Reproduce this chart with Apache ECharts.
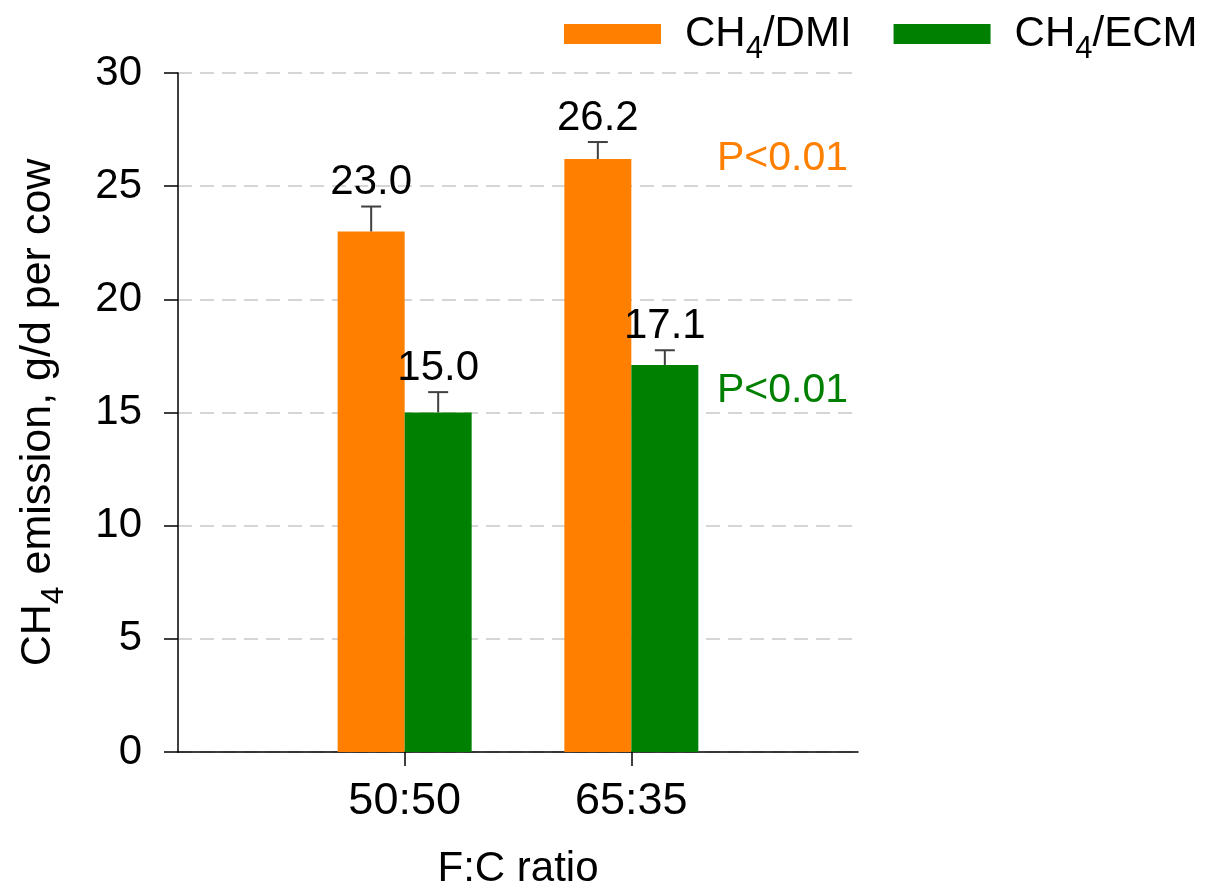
<!DOCTYPE html>
<html>
<head>
<meta charset="utf-8">
<title>CH4 emission by F:C ratio</title>
<script src="https://cdn.jsdelivr.net/npm/echarts@6/dist/echarts.min.js"></script>
<style>
  html, body { margin: 0; padding: 0; background: #ffffff; }
  #chart { width: 1205px; height: 889px; }
</style>
</head>
<body>
<div id="chart"></div>
<script>
// Forage-to-concentrate ratios on the x axis
const categories = ['50:50', '65:35'];

// Methane yield per unit of dry matter intake and per unit of energy-corrected milk
const dmiValues = [23.0, 26.2];
const dmiErrors = [1.1, 0.75];
const ecmValues = [15.0, 17.1];
const ecmErrors = [0.9, 0.65];

// Significance notes shown beside each series
const dmiNote = 'P<0.01';
const ecmNote = 'P<0.01';

const yTicks = { min: 0, max: 30, step: 5 };

const ORANGE = '#ff8000';
const GREEN = '#008000';
const FONT = '"Liberation Sans", Arial, sans-serif';
const BAR_W = 67;

// Empty slots on both ends so the two groups sit at 1/3 and 2/3 of the width
const axisCats = [''].concat(categories, ['']);
const pad = arr => ['-'].concat(arr, ['-']);

// Rich-text styles for "CH4" with a subscript 4
function subStyles(size) {
  const subSize = Math.round(size * 0.74);
  return {
    a: { fontSize: size, fontFamily: FONT, color: '#000', lineHeight: size, verticalAlign: 'top' },
    sub: {
      fontSize: subSize, fontFamily: FONT, color: '#000', lineHeight: subSize,
      verticalAlign: 'top', padding: [Math.round(size * 0.49), 0, 0, 0]
    }
  };
}

// Error-bar rows: [category slot, mean, error, group offset sign]
const errRows = [];
categories.forEach((c, i) => {
  errRows.push([i + 1, dmiValues[i], dmiErrors[i], -1]);
  errRows.push([i + 1, ecmValues[i], ecmErrors[i], 1]);
});

function renderErrorBar(params, api) {
  const slot = api.value(0);
  const mean = api.value(1);
  const err = api.value(2);
  const side = api.value(3);
  const base = api.coord([slot, mean]);
  const top = api.coord([slot, mean + err]);
  const x = base[0] + side * BAR_W / 2;
  const cap = 10;
  const style = { stroke: '#404040', lineWidth: 2 };
  return {
    type: 'group',
    children: [
      { type: 'line', shape: { x1: x, y1: base[1], x2: x, y2: top[1] }, style: style },
      { type: 'line', shape: { x1: x - cap, y1: top[1], x2: x + cap, y2: top[1] }, style: style },
      {
        type: 'text',
        style: {
          x: x, y: top[1] - 3,
          text: mean.toFixed(1),
          fill: '#000',
          font: '42px ' + FONT,
          align: 'center',
          verticalAlign: 'bottom'
        }
      }
    ]
  };
}

const chart = echarts.init(document.getElementById('chart'), null, { renderer: 'canvas' });

chart.setOption({
  backgroundColor: '#ffffff',
  animation: false,
  grid: { left: 178, right: 347, top: 73, bottom: 137, containLabel: false, outerBoundsMode: 'none' },
  legend: {
    left: 559,
    top: 8,
    icon: 'rect',
    itemWidth: 97,
    itemHeight: 20,
    itemGap: 42,
    data: ['CH4/DMI', 'CH4/ECM'],
    formatter: name => {
      const rest = name.slice(3);
      return '{p|}{a|CH}{sub|4}{a|' + rest + '}';
    },
    textStyle: {
      rich: Object.assign({ p: { width: 19 } }, subStyles(42))
    }
  },
  xAxis: {
    type: 'category',
    data: axisCats,
    boundaryGap: false,
    name: 'F:C ratio',
    nameLocation: 'middle',
    nameGap: 96,
    nameTextStyle: { fontSize: 42, fontFamily: FONT, color: '#000' },
    axisLine: { lineStyle: { color: '#000', width: 1.5 } },
    axisTick: {
      show: true,
      length: 14,
      interval: (idx, val) => val !== '',
      lineStyle: { color: '#000', width: 1.5 }
    },
    axisLabel: {
      fontSize: 45,
      fontFamily: FONT,
      color: '#000',
      margin: 27,
      interval: 0
    },
    splitLine: { show: false }
  },
  yAxis: {
    type: 'value',
    min: yTicks.min,
    max: yTicks.max,
    interval: yTicks.step,
    name: '{a|CH}{sub|4}{a| emission, g/d per cow}',
    nameLocation: 'middle',
    nameGap: 118,
    nameRotate: 90,
    nameTextStyle: { rich: subStyles(43) },
    axisLine: { show: true, lineStyle: { color: '#000', width: 1.5 } },
    axisTick: { show: true, length: 14, lineStyle: { color: '#000', width: 1.5 } },
    axisLabel: { fontSize: 42, fontFamily: FONT, color: '#000', margin: 36 },
    splitLine: { show: true, lineStyle: { color: '#c8c8c8', width: 1.5, type: [14, 8] } }
  },
  series: [
    {
      name: 'CH4/DMI',
      type: 'bar',
      data: pad(dmiValues),
      barWidth: BAR_W,
      barGap: '0%',
      itemStyle: { color: ORANGE }
    },
    {
      name: 'CH4/ECM',
      type: 'bar',
      data: pad(ecmValues),
      barWidth: BAR_W,
      barGap: '0%',
      itemStyle: { color: GREEN }
    },
    {
      type: 'custom',
      renderItem: renderErrorBar,
      data: errRows,
      encode: { x: 0, y: 1 },
      z: 10,
      silent: true
    }
  ],
  graphic: [
    {
      type: 'text', right: 357, top: 138, silent: true,
      style: { text: dmiNote, fill: ORANGE, font: '41px ' + FONT }
    },
    {
      type: 'text', right: 357, top: 370, silent: true,
      style: { text: ecmNote, fill: GREEN, font: '41px ' + FONT }
    }
  ]
});
</script>
</body>
</html>
